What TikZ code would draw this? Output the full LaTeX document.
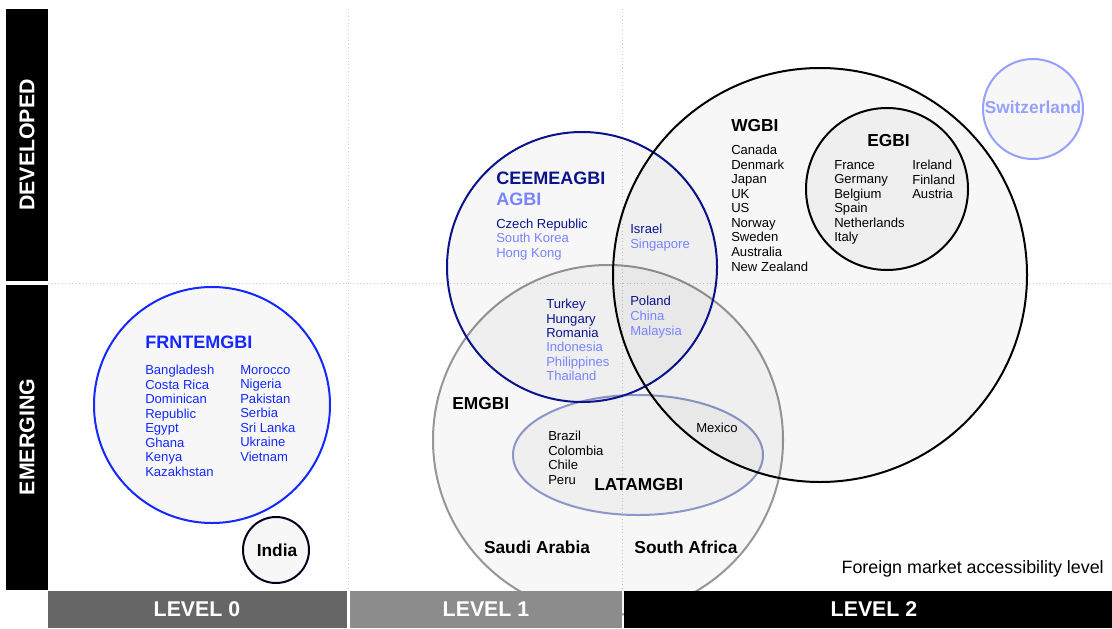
\documentclass[tikz,border=0pt]{standalone}
\usepackage{fontspec}
\setmainfont{Liberation Sans}

\definecolor{frntblue}{RGB}{20,40,255}
\definecolor{ceenavy}{RGB}{10,20,140}
\definecolor{agbiblue}{RGB}{120,132,255}
\definecolor{swissblue}{RGB}{150,160,255}
\definecolor{latamgray}{RGB}{140,150,200}
\definecolor{emgray}{RGB}{150,150,150}
\definecolor{lvlzero}{RGB}{102,102,102}
\definecolor{lvlone}{RGB}{140,140,140}

\begin{document}
\begin{tikzpicture}[x=0.75pt,y=-0.75pt,
  set/.style={line width=1.5pt,fill=black,fill opacity=0.03},
  grid line/.style={gray!40,dotted,line width=0.6pt},
  head/.style={font=\fontsize{13}{15}\selectfont\bfseries,anchor=west,inner sep=0},
  list/.style={font=\fontsize{9.8}{10.9}\selectfont,align=left,anchor=north west,inner sep=0},
  bar label/.style={font=\fontsize{16}{18}\selectfont\bfseries,text=white}]

  \useasboundingbox (0,0) rectangle (1112,628);

  % grid
  \draw[grid line] (348,9) -- (348,590);
  \draw[grid line] (622,9) -- (622,590);
  \draw[grid line] (48,283) -- (1112,283);

  % index sets
  \draw[set,draw=emgray] (608,440) circle[radius=175];
  \draw[set,draw=latamgray] (638,455) ellipse[x radius=125,y radius=60];
  \draw[set,draw=ceenavy] (582,267) circle[radius=135];
  \draw[set,draw=black] (820,275) circle[radius=207];
  \draw[set,draw=black] (887,189) circle[radius=81];
  \draw[set,draw=swissblue] (1033,109) circle[radius=50];
  \draw[set,draw=frntblue] (212,405) circle[radius=118];
  \draw[set,draw=black!90!blue] (276,550) circle[radius=33];

  % axes
  \fill[black] (6,9) rectangle (48,281);
  \fill[black] (6,285) rectangle (48,590);
  \fill[lvlzero] (48,591) rectangle (347,628);
  \fill[lvlone] (350,591) rectangle (622,628);
  \fill[black] (624,591) rectangle (1112,628);

  \node[bar label,rotate=90] (dev) at (27,145) {DEVELOPED};
  \node[bar label,rotate=90] (emg) at (27,437) {EMERGING};
  \node[bar label] (lvl0) at (197,609) {LEVEL 0};
  \node[bar label] (lvl1) at (486,609) {LEVEL 1};
  \node[bar label] (lvl2) at (874,609) {LEVEL 2};

  % frontier
  \node[head,text=frntblue,font=\fontsize{13.5}{15}\selectfont\bfseries] (frnt) at (145,342) {FRNTEMGBI};
  \node[list,text=frntblue] (frntA) at (145,365) {Bangladesh\\Costa Rica\\Dominican\\Republic\\Egypt\\Ghana\\Kenya\\Kazakhstan};
  \node[list,text=frntblue] (frntB) at (240,365) {Morocco\\Nigeria\\Pakistan\\Serbia\\Sri Lanka\\Ukraine\\Vietnam};
  \node[head,anchor=center] (india) at (277,550) {India};

  % ceemea / asia
  \node[head,text=ceenavy,font=\fontsize{13.5}{15}\selectfont\bfseries] (cee) at (496,178) {CEEMEAGBI};
  \node[head,text=agbiblue,font=\fontsize{13.5}{15}\selectfont\bfseries] (agbi) at (496,199) {AGBI};
  \node[list,text=ceenavy] (czech) at (496,219) {Czech Republic};
  \node[list,text=agbiblue] (asiaA) at (496,233) {South Korea\\Hong Kong};
  \node[list,text=ceenavy] (israel) at (630,224) {Israel};
  \node[list,text=agbiblue] (sing) at (630,239) {Singapore};
  \node[list,text=ceenavy] (cemA) at (546,299) {Turkey\\Hungary\\Romania};
  \node[list,text=agbiblue] (asiaB) at (546,342) {Indonesia\\Philippines\\Thailand};
  \node[list,text=ceenavy] (poland) at (630,296) {Poland};
  \node[list,text=agbiblue] (asiaC) at (630,311) {China\\Malaysia};

  % developed
  \node[head] (wgbi) at (731,126) {WGBI};
  \node[list] (wgbiA) at (731,145) {Canada\\Denmark\\Japan\\UK\\US\\Norway\\Sweden\\Australia\\New Zealand};
  \node[head] (egbi) at (867,141) {EGBI};
  \node[list] (egbiA) at (834,160) {France\\Germany\\Belgium\\Spain\\Netherlands\\Italy};
  \node[list] (egbiB) at (912,160) {Ireland\\Finland\\Austria};
  \node[head,anchor=center,text=swissblue,font=\fontsize{13}{15}\selectfont\bfseries] (swiss) at (1033,107) {Switzerland};

  % emerging
  \node[head] (emgbi) at (452,404) {EMGBI};
  \node[list] (latamA) at (548,431) {Brazil\\Colombia\\Chile\\Peru};
  \node[head] (latam) at (594,485) {LATAMGBI};
  \node[list] (mexico) at (696,423) {Mexico};
  \node[head,anchor=center] (saudi) at (537,547) {Saudi Arabia};
  \node[head,anchor=center] (safrica) at (686,547) {South Africa};

  \node[anchor=east,inner sep=0,font=\fontsize{13.4}{15}\selectfont] (axis) at (1104,569) {Foreign market accessibility level};
\end{tikzpicture}
\end{document}
